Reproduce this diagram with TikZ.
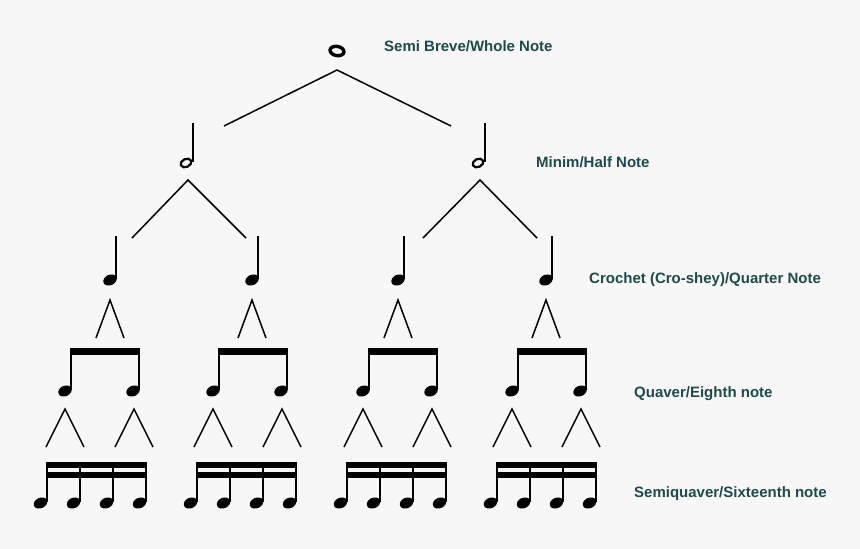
\documentclass[tikz,border=0pt]{standalone}
\usepackage{fontspec}
\setmainfont{Liberation Sans}
\begin{document}
\begin{tikzpicture}[x=1pt,y=-1pt,
  lab/.style={anchor=west,font=\bfseries\fontsize{15}{17}\selectfont,text=labc,inner sep=0},
  tl/.style={line width=1.5pt,black},
  stem/.style={line width=2.2pt},
  beam/.style={fill=black}]
\definecolor{labc}{HTML}{1E4A4C}
\fill[fill={rgb,255:red,247;green,247;blue,247}] (0,0) rectangle (860,549);
\useasboundingbox (0,0) rectangle (860,549);
\newcommand{\qhead}[2]{\fill[rotate around={25:(#1,#2)}] (#1,#2) ellipse (7 and 5.2);}
\newcommand{\caret}[3]{\draw[tl] (#1-#3,#2+38) -- (#1,#2) -- (#1+#3,#2+38);}
% whole note
\draw[line width=3.4pt,rotate around={-10:(337,51)}] (337,51) ellipse (7 and 4.6);
\draw[tl] (224,126) -- (337,70) -- (451,126);
% half notes
\foreach \x in {186,478}{
  \draw[line width=2.2pt,rotate around={25:(\x,163)}] (\x,163) ellipse (5.6 and 4);
  \draw[stem] (\x+7,123) -- (\x+7,162);
}
\draw[tl] (132,238) -- (188,180) -- (246,238);
\draw[tl] (423,238) -- (480,180) -- (537,238);
% quarter notes
\foreach \x in {110,252,398,546}{
  \qhead{\x}{280}
  \draw[stem] (\x+6,236) -- (\x+6,279);
  \caret{\x}{300}{14}
}
% eighth groups
\foreach \x in {71,219,369,518}{
  \fill (\x-1,348) rectangle (\x+69,355);
  \draw[stem] (\x,348) -- (\x,390);
  \draw[stem] (\x+68,348) -- (\x+68,390);
  \qhead{\x-6}{391}
  \qhead{\x+62}{391}
  \caret{\x-6}{409}{19}
  \caret{\x+63}{409}{19}
}
% sixteenth groups
\foreach \x in {47,197,347,497}{
  \fill (\x-1,462) rectangle (\x+100,467.5);
  \fill (\x-1,472) rectangle (\x+100,477.5);
  \foreach \d in {0,33,66,99}{
    \draw[stem] (\x+\d,462) -- (\x+\d,502);
    \qhead{\x+\d-6.5}{503}
  }
}
\node[lab] (l1) at (384,46) {Semi Breve/Whole Note};
\node[lab] (l2) at (536,162) {Minim/Half Note};
\node[lab] (l3) at (589,280) {Crochet (Cro-shey)/Quarter Note};
\node[lab] (l4) at (634,394) {Quaver/Eighth note};
\node[lab] (l5) at (634,494) {Semiquaver/Sixteenth note};
\end{tikzpicture}
\end{document}
